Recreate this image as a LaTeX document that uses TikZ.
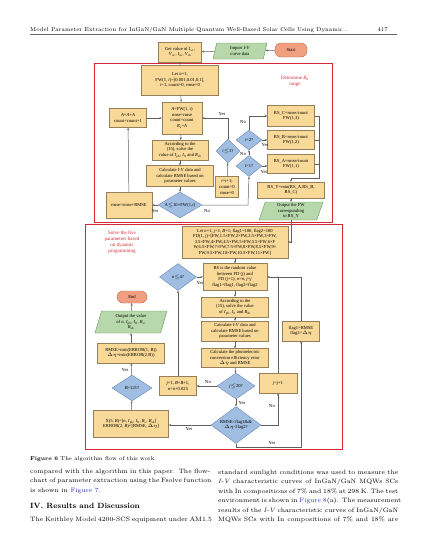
\documentclass[tikz,border=0pt]{standalone}
\usepackage{fontspec}
\usetikzlibrary{shapes.geometric,arrows.meta,calc}
\newfontfamily\fcfont{Liberation Serif}
\newcommand\fcsz{\fcfont\fontsize{4.6}{5.6}\selectfont}
\newcommand\bodysz{\fontsize{6.3}{9.4}\selectfont}
\newcommand\jline[1]{\makebox[180pt][s]{#1}}
\definecolor{boxfill}{RGB}{249,217,152}
\definecolor{boxdraw}{RGB}{150,128,90}
\definecolor{diafill}{RGB}{160,190,226}
\definecolor{diadraw}{RGB}{105,135,178}
\definecolor{parfill}{RGB}{182,216,170}
\definecolor{pardraw}{RGB}{105,148,98}
\definecolor{termfill}{RGB}{240,160,128}
\definecolor{termdraw}{RGB}{185,100,78}
\definecolor{framered}{RGB}{212,40,52}
\definecolor{conncol}{RGB}{95,95,95}
\definecolor{linkblue}{RGB}{40,50,170}
\tikzset{
 box/.style={draw=boxdraw, fill=boxfill, line width=0.4pt, inner sep=0.3pt, align=center, font=\fcsz},
 dia/.style={diamond, aspect=1.5, draw=diadraw, fill=diafill, line width=0.4pt, inner sep=0pt, align=center, font=\fcsz},
 para/.style={trapezium, trapezium left angle=68, trapezium right angle=112, trapezium stretches body, draw=pardraw, fill=parfill, line width=0.4pt, inner sep=0.3pt, align=center, font=\fcsz},
 term/.style={draw=termdraw, fill=termfill, line width=0.4pt, rounded corners=6pt, inner sep=0pt, font=\fcsz},
 conn/.style={draw=conncol, line width=0.5pt, -{Stealth[length=2.4pt,width=2pt]}},
 line/.style={draw=conncol, line width=0.5pt},
 frame/.style={draw=framered, line width=1pt},
 lbl/.style={font=\fcsz, inner sep=0.3pt},
 redlbl/.style={font=\fcfont\fontsize{5}{6}\selectfont, text=framered, align=center, inner sep=0pt},
 bodytxt/.style={anchor=base west, inner sep=0pt, align=left, font=\bodysz},
}
\begin{document}
\begin{tikzpicture}[x=1pt,y=-1pt]
\useasboundingbox (0,0) rectangle (427,557);
% header
\node[anchor=base west, inner sep=0, font=\fontsize{5.6}{7}\selectfont] (hdr) at (30,31) {Model Parameter Extraction for InGaN/GaN Multiple Quantum Well-Based Solar Cells Using Dynamic...};
\node[anchor=base east, inner sep=0, font=\fontsize{5.6}{7}\selectfont] (pg) at (388,31) {417};
\draw[black!60, line width=0.5pt] (30,34.5) -- (397,34.5);
% frames
\draw[frame] (94,63) rectangle (332,222);
\draw[frame] (85,224) rectangle (342,449);
\node[redlbl] (detlbl) at (295,81) {Determine \textit{R}\textsubscript{s}\\range};
\node[redlbl] (solvelbl) at (122,242) {Solve the five\\parameters based\\on dynamic\\programming};
% top nodes
\node[term, minimum width=32pt, minimum height=14pt] (start) at (291,50) {Start};
\node[para, minimum width=54pt, minimum height=16pt] (imp) at (240,51) {Import \textit{I-V}\\curve data};
\node[box, minimum width=43pt, minimum height=20pt] (get) at (180,52) {Get value of \textit{I}\textsubscript{sc},\\\textit{V}\textsubscript{oc}, \textit{I}\textsubscript{m}, \textit{V}\textsubscript{m}};
\node[box, minimum width=77pt, minimum height=30pt] (letn) at (180,80) {Let \textit{n}=1,\\FW(1, \textit{i})=[0.001,0.01,0.1],\\\textit{i}=1, count=0, rmse=0};
\node[box, minimum width=40pt, minimum height=32pt] (afw) at (182,118) {\textit{A}=FW(1, \textit{i})\\rmse=rmse\\count=count\\\textit{R}\textsubscript{s}=\textit{A}};
\node[box, minimum width=37pt, minimum height=19pt] (aaa) at (128,118) {\textit{A}=\textit{A}+\textit{A}\\count=count+1};
\node[box, minimum width=56pt, minimum height=20pt] (acc1) at (180,150) {According to the\\(15), solve the\\value of \textit{I}\textsubscript{ph}, \textit{I}\textsubscript{0} and \textit{R}\textsubscript{sh}};
\node[box, minimum width=67pt, minimum height=21pt] (calc1) at (180,176) {Calculate \textit{I-V} data and\\calculate RMSE based on\\parameter values};
\node[dia, aspect=2, minimum width=44pt, minimum height=26pt] (dA) at (180,205) {\textit{A}$\leq$10×FW(1,\textit{i})};
\node[box, minimum width=46pt, minimum height=26pt] (rmse) at (129,205) {rmse=rmse+RMSE};
\node[dia, aspect=1, minimum width=24pt, minimum height=24pt] (di3) at (228,151) {\textit{i}$\leq$3?};
\node[dia, minimum width=26pt, minimum height=20pt] (di2) at (249,140) {\textit{i}=2?};
\node[dia, minimum width=26pt, minimum height=21pt] (di1) at (249,166) {\textit{i}=1?};
\node[box, minimum width=23pt, minimum height=21pt] (iinc) at (227,187) {\textit{i}=\textit{i}+1;\\count=0\\rmse=0};
\node[box, minimum width=47pt, minimum height=21pt] (rsc) at (291,116) {RS\_C=rmse/count\\FW(1,3)};
\node[box, minimum width=47pt, minimum height=19pt] (rsb) at (291,140) {RS\_B=rmse/count\\FW(1,2)};
\node[box, minimum width=47pt, minimum height=19pt] (rsa) at (291,164) {RS\_A=rmse/count\\FW(1,1)};
\node[box, minimum width=67pt, minimum height=16pt] (rsy) at (291,190) {RS\_Y=min(RS\_A,RS\_B,\\RS\_C)};
\node[para, minimum width=64pt, minimum height=18pt] (outfw) at (291,211) {Output the FW\\corresponding\\to RS\_Y};
% lower nodes
\node[box, minimum width=106pt, minimum height=32pt] (letj) at (235,242) {Let \textit{n}=1, \textit{j}=1, \textit{B}=1; flag1=100, flag2=100\\FD(1, \textit{j})=[FW,1.5×FW,2×FW,2.5×FW,3×FW,\\3.5×FW,4×FW,4.5×FW,5×FW,5.5×FW,6×F\\W,6.5×FW,7×FW,7.5×FW,8×FW,8.5×FW,9×\\FW,9.5×FW,10×FW,10.5×FW,11×FW]};
\node[box, minimum width=64pt, minimum height=27pt] (rsr) at (235,277) {RS is the random value\\between FD (\textit{j}) and\\FD (\textit{j}+1), \textit{n}=\textit{n}, \textit{j}=\textit{j}\\flag1=flag1, flag2=flag2};
\node[box, minimum width=67pt, minimum height=20pt] (acc2) at (235,307) {According to the\\(15), solve the value\\of \textit{I}\textsubscript{ph}, \textit{I}\textsubscript{0} and \textit{R}\textsubscript{sh}};
\node[box, minimum width=67pt, minimum height=20pt] (calc2) at (235,331) {Calculate \textit{I-V} data and\\calculate RMSE based on\\parameter values};
\node[box, minimum width=67pt, minimum height=19pt] (phot) at (235,358) {Calculate the photoelectric\\conversion efficiency error\\$\Delta\eta$ and RMSE};
\node[dia, minimum width=38pt, minimum height=26pt] (dj) at (236,386) {\textit{j}$\leq$20?};
\node[dia, aspect=1.35, minimum width=50pt, minimum height=37pt] (drm) at (236,425) {RMSE<flag1\&\&\\$\Delta\eta$<flag2?};
\node[box, minimum width=38pt, minimum height=20pt] (jinc) at (278,383) {\textit{j}=\textit{j}+1};
\node[box, minimum width=37pt, minimum height=20pt] (flag) at (301,331) {flag1=RMSE\\flag2=$\Delta\eta$};
\node[dia, minimum width=37pt, minimum height=27pt] (dm) at (178,277) {\textit{n}$\leq$4?};
\node[box, minimum width=37pt, minimum height=19pt] (j1) at (178,386) {\textit{j}=1, \textit{B}=\textit{B}+1,\\\textit{n}=\textit{n}+0.025};
\node[dia, minimum width=40pt, minimum height=26pt] (dB) at (132,388) {\textit{B}=121?};
\node[box, minimum width=75pt, minimum height=27pt] (xb) at (131,424) {X(5, \textit{B})=[\textit{n}, \textit{I}\textsubscript{ph}, \textit{I}\textsubscript{0}, \textit{R}\textsubscript{s}, \textit{R}\textsubscript{sh}]\\ERROR(2, \textit{B})=[RMSE, $\Delta\eta$]};
\node[box, minimum width=67pt, minimum height=20pt] (rmin) at (131,353) {RMSE=min(ERROR(1, B))\\$\Delta\eta$=min(ERROR(2,B))};
\node[para, minimum width=72pt, minimum height=22pt] (outv) at (131,322) {Output the value\\of \textit{n}, \textit{I}\textsubscript{ph}, \textit{I}\textsubscript{0}, \textit{R}\textsubscript{s},\\\textit{R}\textsubscript{sh}};
\node[term, minimum width=30pt, minimum height=12pt] (endn) at (132,297) {End};
% coordinates
\coordinate (cA) at (248,205);
\coordinate (c2) at (249,116);
\coordinate (c3) at (228,118);
\coordinate (rtop) at (319,116);
\coordinate (rbot) at (319,178);
\coordinate (rmid) at (291,178);
\coordinate (rb) at (319,140);
\coordinate (ra) at (319,164);
\coordinate (floop) at (301,277);
\coordinate (jloop) at (278,277);
\coordinate (ybot) at (236,447);
\coordinate (ybot2) at (301,447);
% top connectors
\draw[conn] (start) -- (imp);
\draw[conn] (imp) -- (get);
\draw[conn] (get) -- (letn);
\draw[conn] (letn) -- (afw);
\draw[conn] (aaa) -- (afw);
\draw[conn] (afw) -- (acc1);
\draw[conn] (acc1) -- (calc1);
\draw[conn] (calc1) -- (dA);
\draw[conn] (dA) -- (rmse);
\draw[conn] (rmse) -- (aaa);
\draw[conn] (dA.east) -- (cA) -- (di1.south);
\draw[conn] (di1) -- (di2);
\draw[conn] (di1.east) -- (rsa.west |- di1.east);
\draw[conn] (di2) -- (rsb);
\draw[conn] (di2.north) -- (c2) -- (rsc.west);
\draw[conn] (iinc) -- (di3);
\draw[conn] (di3.north) -- (c3) -- (afw.east);
\draw[line] (rsc.east) -- (rtop) -- (rbot) -- (rmid);
\draw[line] (rsb.east) -- (rb);
\draw[line] (rsa.east) -- (ra);
\draw[conn] (rmid) -- (rsy.north);
\draw[conn] (rsy) -- (outfw);
\draw[conn] (outfw.south) |- (letj.east);
% lower connectors
\draw[conn] (letj) -- (rsr);
\draw[conn] (dm) -- (rsr);
\draw[conn] (rsr) -- (acc2);
\draw[conn] (acc2) -- (calc2);
\draw[conn] (calc2) -- (phot);
\draw[conn] (phot) -- (dj);
\draw[conn] (dj) -- (j1);
\draw[conn] (dj) -- (drm);
\draw[conn] (drm.east) -| (jinc.south);
\draw[conn] (drm.south) -- (ybot) -- (ybot2) -- (flag.south);
\draw[conn] (flag.north) -- (floop) -- (rsr.east);
\draw[line] (jinc.north) -- (jloop);
\fill[conncol] (jloop) circle (0.6pt);
\draw[conn] (j1) -- (dm);
\draw[conn] (drm.west) -- (xb.east |- drm.west);
\draw[conn] (xb) -- (dB);
\draw[conn] (dB) -- (rmin);
\draw[conn] (rmin) -- (outv);
\draw[conn] (outv) -- (endn);
% labels
\node[lbl] (y1) at (155,211) {Yes};
\node[lbl] (n1) at (207,211) {No};
\node[lbl] (n2) at (243,154) {No};
\node[lbl] (y2) at (264,172) {Yes};
\node[lbl] (y3) at (265,145) {Yes};
\node[lbl] (n3) at (243,122) {No};
\node[lbl] (y4) at (222,114) {Yes};
\node[lbl] (y5) at (200,283) {Yes};
\node[lbl] (n4) at (208,382) {No};
\node[lbl] (y6) at (242,403) {Yes};
\node[lbl] (n5) at (272,406) {No};
\node[lbl] (y7) at (272,443.5) {Yes};
\node[lbl] (y8) at (189,429) {Yes};
\node[lbl] (y9) at (125,370) {Yes};
% caption
\node[anchor=base west, inner sep=0, font=\fontsize{5.5}{6.5}\selectfont] (cap) at (30,460) {\textbf{Figure 6} The algorithm flow of this work.};
% body text (base anchor = baseline of the last line)
\node[bodytxt] (lcol) at (30,492) {\jline{compared with the algorithm in this paper. The flow-}\\\jline{chart of parameter extraction using the Fsolve function}\\is shown in \textcolor{linkblue}{Figure 7}.};
\node[anchor=base west, inner sep=0, font=\fontsize{7.6}{9}\selectfont\bfseries] (sec) at (30,508) {IV. Results and Discussion};
\node[bodytxt] (lcol2) at (30,521.5) {\jline{The Keithley Model 4200-SCS equipment under AM1.5}};
\node[bodytxt] (rcol) at (218,521.5) {\jline{standard sunlight conditions was used to measure the}\\\jline{\textit{I-V} characteristic curves of InGaN/GaN MQWs SCs}\\\jline{with In compositions of 7\% and 18\% at 298 K. The test}\\\jline{environment is shown in \textcolor{linkblue}{Figure 8}(a). The measurement}\\\jline{results of the \textit{I-V} characteristic curves of InGaN/GaN}\\\jline{MQWs SCs with In compositions of 7\% and 18\% are}};
\end{tikzpicture}
\end{document}
